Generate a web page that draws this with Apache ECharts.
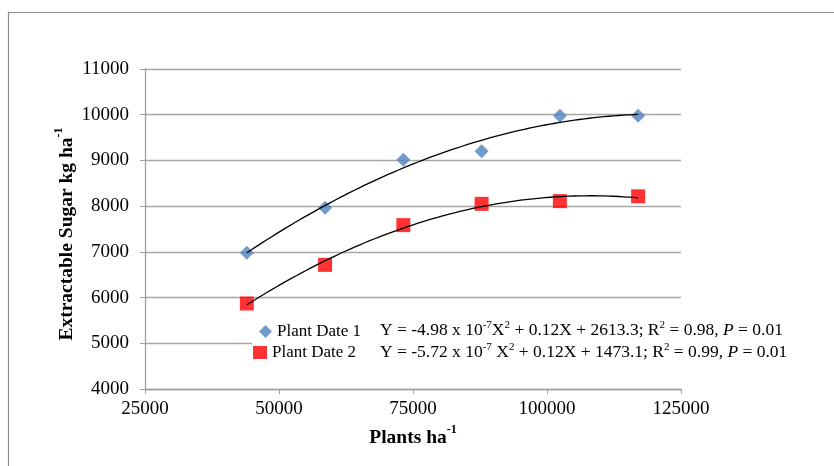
<!DOCTYPE html>
<html><head><meta charset="utf-8">
<script src="https://cdn.jsdelivr.net/npm/echarts@6/dist/echarts.min.js"></script>
<style>html,body{margin:0;padding:0;background:#fff}#c{width:834px;height:466px}</style>
</head><body><div id="c"></div>
<script>
// Data
const plants = [44000, 58600, 73200, 87800, 102400, 117000];
const date1 = [6980, 7965, 9015, 9200, 9975, 9975];
const date2 = [5870, 6715, 7585, 8050, 8110, 8215];
const seriesNames = ['Plant Date 1', 'Plant Date 2'];
const eq1 = '{n|Y = -4.98 x 10}{s|-7}{n|X}{s|2}{n| + 0.12X + 2613.3; R}{s|2}{n| = 0.98, }{i|P}{n| = 0.01}';
const eq2 = '{n|Y = -5.72 x 10}{s|-7}{n| X}{s|2}{n| + 0.12X + 1473.1; R}{s|2}{n| = 0.99, }{i|P}{n| = 0.01}';

// least-squares quadratic trendline (spreadsheet-style polynomial trendline)
function quadFit(xs, ys) {
  const n = xs.length; let s = [0,0,0,0,0], t = [0,0,0];
  const sc = 1e-5;
  for (let k = 0; k < n; k++) {
    const x = xs[k] * sc, y = ys[k];
    for (let p = 0; p < 5; p++) s[p] += Math.pow(x, p);
    for (let p = 0; p < 3; p++) t[p] += y * Math.pow(x, p);
  }
  const A = [[s[0],s[1],s[2],t[0]],[s[1],s[2],s[3],t[1]],[s[2],s[3],s[4],t[2]]];
  for (let i = 0; i < 3; i++) {
    for (let j = i + 1; j < 3; j++) {
      const f = A[j][i] / A[i][i];
      for (let k = i; k < 4; k++) A[j][k] -= f * A[i][k];
    }
  }
  const c = [0,0,0];
  for (let i = 2; i >= 0; i--) {
    let v = A[i][3];
    for (let k = i + 1; k < 3; k++) v -= A[i][k] * c[k];
    c[i] = v / A[i][i];
  }
  return x => c[0] + c[1] * x * sc + c[2] * (x * sc) * (x * sc);
}
function trend(xs, ys) {
  const f = quadFit(xs, ys); const out = [];
  const a = Math.min(...xs), b = Math.max(...xs), N = 80;
  for (let i = 0; i <= N; i++) { const x = a + (b - a) * i / N; out.push([x, f(x)]); }
  return out;
}

const font = 'Liberation Serif';
const chart = echarts.init(document.getElementById('c'), null, {renderer: 'canvas'});
const supRich = {
  n: {fontFamily: font, fontSize: 17.5, color: '#000', lineHeight: 20, verticalAlign: 'bottom'},
  s: {fontFamily: font, fontSize: 11, color: '#000', lineHeight: 20, verticalAlign: 'top', padding: [1,0,0,0]},
  i: {fontFamily: font, fontSize: 17.5, color: '#000', fontStyle: 'italic', lineHeight: 20, verticalAlign: 'bottom'}
};
const titleRich = {
  b: {fontFamily: font, fontSize: 19.5, fontWeight: 'bold', color: '#000', lineHeight: 24, verticalAlign: 'bottom'},
  bs: {fontFamily: font, fontSize: 12, fontWeight: 'bold', color: '#000', lineHeight: 24, verticalAlign: 'top'}
};
chart.setOption({
  animation: false,
  backgroundColor: '#fff',
  grid: {left: 145, right: 153, top: 69, bottom: 77},
  xAxis: {
    type: 'value', min: 25000, max: 125000, interval: 25000,
    name: '{b|Plants ha}{bs|-1}', nameLocation: 'middle', nameGap: 35,
    nameTextStyle: {rich: titleRich},
    axisLine: {lineStyle: {color: '#a0a0a0', width: 1.3}},
    axisTick: {show: true, length: 5, lineStyle: {color: '#a0a0a0'}},
    axisLabel: {fontFamily: font, fontSize: 19, color: '#000', margin: 11, formatter: v => String(v)},
    splitLine: {show: false}
  },
  yAxis: {
    type: 'value', min: 4000, max: 11000, interval: 1000,
    name: '{b|Extractable Sugar kg ha}{bs|-1}', nameLocation: 'middle', nameGap: 68,
    nameMoveOverlap: false,
    nameTextStyle: {rich: titleRich, padding: [0, 10, 0, 0]},
    axisLine: {show: true, lineStyle: {color: '#a0a0a0', width: 1.3}},
    axisTick: {show: true, length: 5, lineStyle: {color: '#a0a0a0'}},
    axisLabel: {fontFamily: font, fontSize: 19, color: '#000', margin: 16, formatter: v => String(v)},
    splitLine: {show: true, lineStyle: {color: '#a6a6a6', width: 1.3}}
  },
  legend: [
    {data: [{name: seriesNames[0], icon: 'diamond'}], orient: 'vertical', left: 254, top: 318,
     itemWidth: 13, itemHeight: 13, selectedMode: false,
     textStyle: {fontFamily: font, fontSize: 17, color: '#000'}},
    {data: [{name: seriesNames[1], icon: 'rect'}], orient: 'vertical', left: 248, top: 339,
     itemWidth: 14, itemHeight: 13, selectedMode: false,
     textStyle: {fontFamily: font, fontSize: 17, color: '#000'}}
  ],
  graphic: [
    {type: 'rect', z: 1, shape: {x: 8.5, y: 12.5, width: 1000, height: 1000},
     style: {fill: 'none', stroke: '#8c8c8c', lineWidth: 1.2}, silent: true},
    {type: 'rect', z: 1, shape: {x: 252, y: 319, width: 550, height: 44},
     style: {fill: '#fff'}, silent: true},
    {type: 'text', z: 5, left: 380, top: 319, style: {text: eq1, rich: supRich}},
    {type: 'text', z: 5, left: 380, top: 341, style: {text: eq2, rich: supRich}}
  ],
  series: [
    {name: seriesNames[0], type: 'scatter', symbol: 'diamond', symbolSize: 14,
     itemStyle: {color: '#4f81bd'}, z: 3,
     data: plants.map((x, i) => [x, date1[i]])},
    {name: seriesNames[1], type: 'scatter', symbol: 'rect', symbolSize: 14,
     itemStyle: {color: '#ff0000'}, z: 3,
     data: plants.map((x, i) => [x, date2[i]])},
    {name: 'trend1', type: 'line', showSymbol: false, symbol: 'none', z: 4, silent: true,
     lineStyle: {color: '#000', width: 1.3}, data: trend(plants, date1)},
    {name: 'trend2', type: 'line', showSymbol: false, symbol: 'none', z: 4, silent: true,
     lineStyle: {color: '#000', width: 1.3}, data: trend(plants, date2)}
  ]
});
</script>
</body></html>
